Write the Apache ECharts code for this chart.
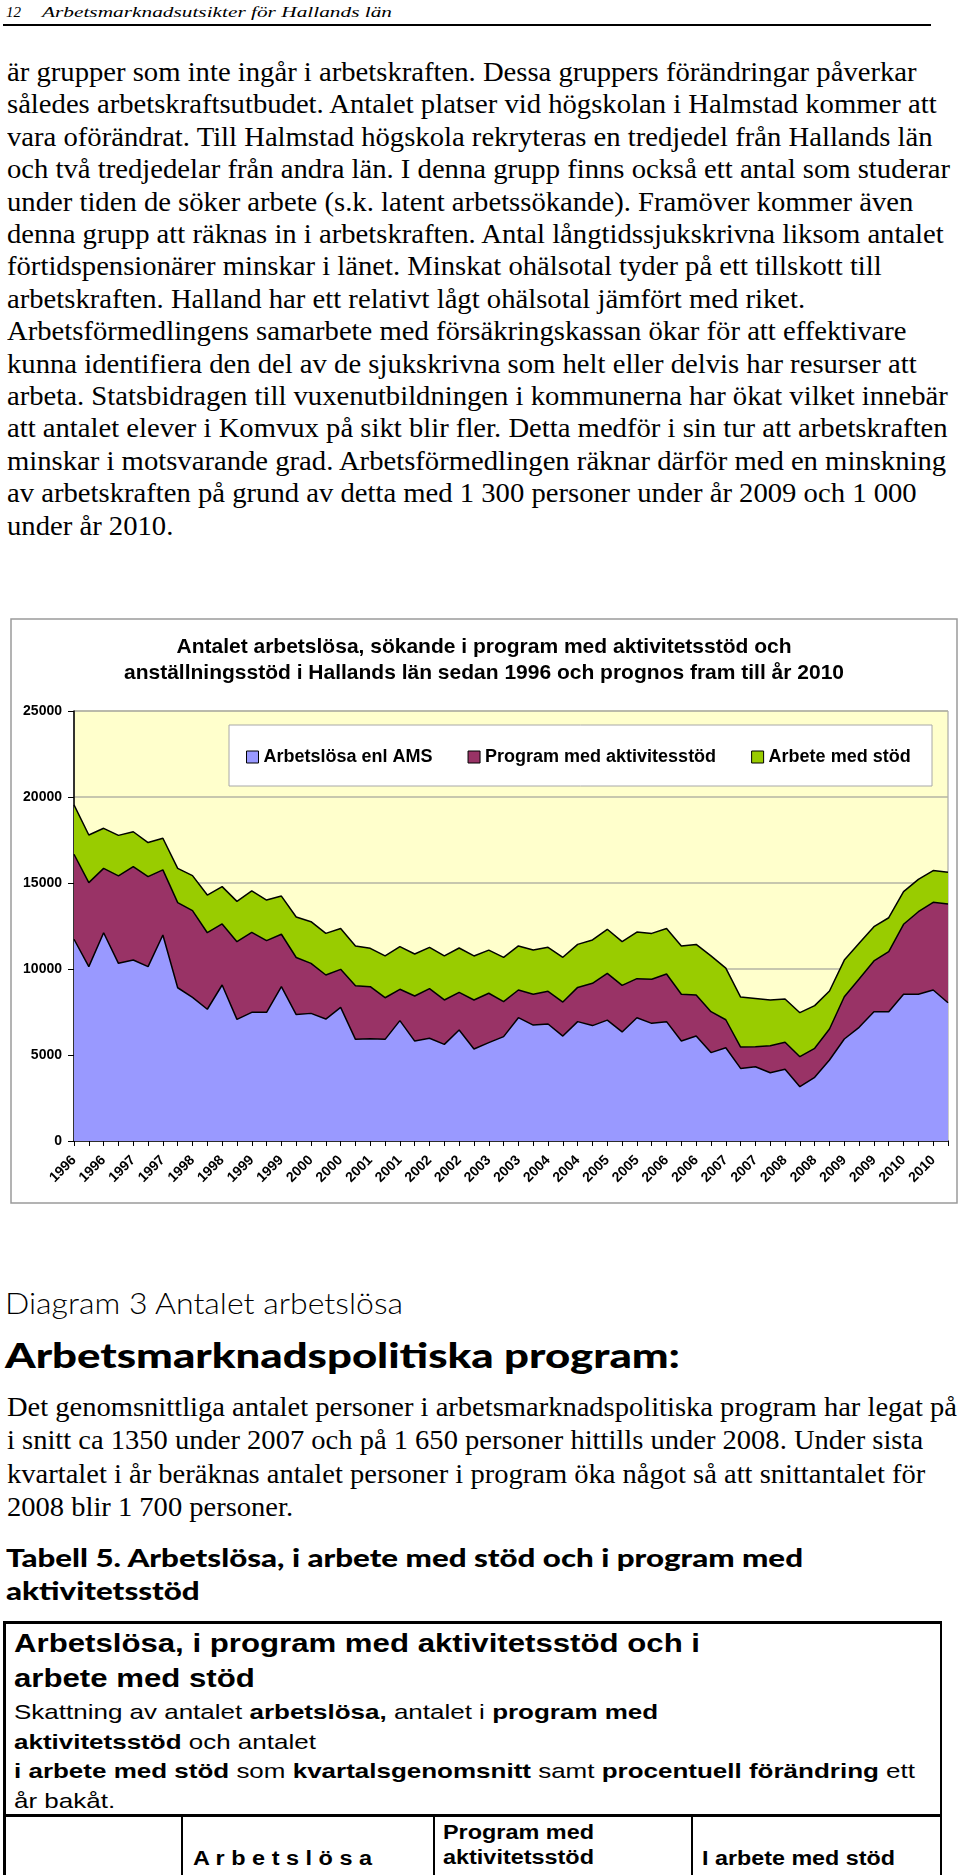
<!DOCTYPE html>
<html><head><meta charset="utf-8">
<script src="https://cdn.jsdelivr.net/npm/echarts@6/dist/echarts.min.js"></script>
<style>
html,body{margin:0;padding:0;background:#fff;}
#page{position:relative;width:960px;height:1875px;overflow:hidden;background:#fff;}
.t{position:absolute;white-space:nowrap;transform-origin:0 50%;color:#000;display:block;}
.serif{font-family:"Liberation Serif","Times New Roman",serif;}
.sans{font-family:"Liberation Sans Narrow","Liberation Sans",Arial,sans-serif;}
.geo{font-family:Lato,"Noto Sans",sans-serif;}
.rule{position:absolute;background:#000;}
#chart{position:absolute;left:0;top:600px;width:960px;height:620px;}
</style></head>
<body><div id="page"><div id="chart"></div></div>
<script>
// ---------- chart data ----------
const years = [1996,1997,1998,1999,2000,2001,2002,2003,2004,2005,2006,2007,2008,2009,2010];
const categories = [];
years.forEach(y => { for (let q = 0; q < 4; q++) categories.push(String(y)); });

const arbetslosa = [11730,10140,12110,10330,10520,10140,11980,8910,8350,7660,
  9070,7070,7480,7480,8970,7350,7420,7090,7770,5910,
  5950,5910,7000,5810,5970,5620,6450,5350,5720,6070,
  7170,6740,6800,6100,6940,6710,7030,6340,7170,6840,
  6940,5810,6100,5140,5420,4220,4320,3970,4170,3160,
  3700,4710,5930,6610,7520,7520,8530,8530,8780,8040];
const program = [4940,4880,3740,5080,5430,5230,3780,4950,5040,4450,
  3550,4520,4650,4170,3050,3320,2910,2560,2210,3120,
  3020,2420,1820,2620,2890,2580,2190,2850,2870,2030,
  1610,1790,1900,1980,1990,2460,2720,2710,2270,2560,
  2770,2720,2390,2380,1630,1240,1160,1570,1570,1740,
  1690,1800,2460,2810,2950,3490,4070,4800,5100,5740];
const arbeteMedStod = [2870,2770,2330,2360,2030,1980,1840,1990,2040,2190,
  2170,2340,2410,2360,2220,2350,2420,2420,2370,2310,
  2230,2430,2480,2440,2400,2560,2580,2560,2510,2580,
  2560,2570,2560,2600,2500,2520,2560,2540,2710,2670,
  2640,2810,2940,3240,3000,2910,2810,2660,2520,2560,
  2480,2210,2130,2070,1990,1970,1900,1880,1840,1840];
const seriesNames = ['Arbetslösa enl AMS','Program med aktivitesstöd','Arbete med stöd'];
const seriesColors = ['#9999FF','#993366','#99CC00'];
const yTicks = [0,5000,10000,15000,20000,25000];
const chartTitle = 'Antalet arbetslösa, sökande i program med aktivitetsstöd och\nanställningsstöd i Hallands län sedan 1996 och prognos fram till år 2010';

// ---------- page text ----------
const para1 = [
"är grupper som inte ingår i arbetskraften. Dessa gruppers förändringar påverkar",
"således arbetskraftsutbudet. Antalet platser vid högskolan i Halmstad kommer att",
"vara oförändrat. Till Halmstad högskola rekryteras en tredjedel från Hallands län",
"och två tredjedelar från andra län. I denna grupp finns också ett antal som studerar",
"under tiden de söker arbete (s.k. latent arbetssökande). Framöver kommer även",
"denna grupp att räknas in i arbetskraften. Antal långtidssjukskrivna liksom antalet",
"förtidspensionärer minskar i länet. Minskat ohälsotal tyder på ett tillskott till",
"arbetskraften. Halland har ett relativt lågt ohälsotal jämfört med riket.",
"Arbetsförmedlingens samarbete med försäkringskassan ökar för att effektivare",
"kunna identifiera den del av de sjukskrivna som helt eller delvis har resurser att",
"arbeta. Statsbidragen till vuxenutbildningen i kommunerna har ökat vilket innebär",
"att antalet elever i Komvux på sikt blir fler. Detta medför i sin tur att arbetskraften",
"minskar i motsvarande grad. Arbetsförmedlingen räknar därför med en minskning",
"av arbetskraften på grund av detta med 1 300 personer under år 2009 och 1 000",
"under år 2010."
];
const para2 = [
"Det genomsnittliga antalet personer i arbetsmarknadspolitiska program har legat på",
"i snitt ca 1350 under 2007 och på 1 650 personer hittills under 2008. Under sista",
"kvartalet i år beräknas antalet personer i program öka något så att snittantalet för",
"2008 blir 1 700 personer."
];

const page = document.getElementById('page');
function addLine(html, cls, x, cy, fs, extra) {
  const h = Math.round(fs * 1.2);
  const d = document.createElement('div');
  d.className = 't ' + cls;
  d.innerHTML = html;
  d.style.left = x + 'px';
  d.style.top = (cy - h / 2) + 'px';
  d.style.height = h + 'px';
  d.style.lineHeight = h + 'px';
  d.style.fontSize = fs + 'px';
  if (extra) Object.assign(d.style, extra);
  page.appendChild(d);
  return d;
}
function fit(els, ref, target) {
  const w = ref.getBoundingClientRect().width;
  const s = target / w;
  els.forEach(e => e.style.transform = 'scaleX(' + s + ')');
}
function rule(x, y, w, h) {
  const r = document.createElement('div');
  r.className = 'rule';
  Object.assign(r.style, {left: x + 'px', top: y + 'px', width: w + 'px', height: h + 'px'});
  page.appendChild(r);
}

// header
const h1 = addLine('12', 'serif', 6, 12, 15, {fontStyle: 'italic'});
const h2 = addLine('Arbetsmarknadsutsikter för Hallands län', 'serif', 42, 12, 15, {fontStyle: 'italic'});
fit([h2], h2, 350);
rule(3, 24, 928, 1.5);

// paragraph 1
const p1 = para1.map((s, i) => addLine(s, 'serif', 7, 72 + i * 32.4, 27));
fit(p1, p1[3], 943);

// headings
const d3 = addLine('Diagram 3 Antalet arbetslösa', 'geo', 5, 1302, 30, {fontWeight: 300});
fit([d3], d3, 398);
const ap = addLine('Arbetsmarknadspolitiska program:', 'geo', 5, 1354, 34, {fontWeight: 900});
fit([ap], ap, 675);

// paragraph 2
const p2 = para2.map((s, i) => addLine(s, 'serif', 7, 1407 + i * 33.3, 27));
fit(p2, p2[0], 950);

// table caption
const tb1 = addLine('Tabell 5. Arbetslösa, i arbete med stöd och i program med', 'geo', 6, 1557, 25, {fontWeight: 900});
const tb2 = addLine('aktivitetsstöd', 'geo', 6, 1590, 25, {fontWeight: 900});
fit([tb1, tb2], tb1, 797);

// table frame
rule(3, 1621, 939, 2.5);
rule(3, 1621, 2.5, 260);
rule(939.5, 1621, 2.5, 260);
rule(3, 1814, 939, 2.5);
rule(181, 1814, 2, 70);
rule(433, 1814, 2, 70);
rule(691, 1814, 2, 70);

const tt1 = addLine('Arbetslösa, i program med aktivitetsstöd och i', 'sans', 14, 1643, 25, {fontWeight: 'bold'});
const tt2 = addLine('arbete med stöd', 'sans', 14, 1678, 25, {fontWeight: 'bold'});
fit([tt1, tt2], tt1, 686);
const td = [
  ['Skattning av antalet <b>arbetslösa,</b> antalet i <b>program med</b>', 1711],
  ['<b>aktivitetsstöd</b> och antalet', 1741],
  ['<b>i arbete med stöd</b> som <b>kvartalsgenomsnitt</b> samt <b>procentuell förändring</b> ett', 1770],
  ['år bakåt.', 1800]
].map(a => addLine(a[0], 'sans', 14, a[1], 21));
fit(td, td[2], 901);
const c1a = addLine('Program med', 'sans', 443, 1832, 20, {fontWeight: 'bold'});
const c1b = addLine('aktivitetsstöd', 'sans', 443, 1857, 20, {fontWeight: 'bold'});
fit([c1a, c1b], c1b, 151);
const c0 = addLine('A r b e t s l ö s a', 'sans', 193, 1858, 20, {fontWeight: 'bold'});
fit([c0], c0, 179);
const c2 = addLine('I arbete med stöd', 'sans', 702, 1858, 20, {fontWeight: 'bold'});
fit([c2], c2, 193);

// ---------- chart ----------
const chart = echarts.init(document.getElementById('chart'), null, {renderer: 'canvas'});
const FONT = '"Liberation Sans", Arial, sans-serif';
const data = [arbetslosa, program, arbeteMedStod];
chart.setOption({
  animation: false,
  backgroundColor: 'transparent',
  graphic: [
    {type: 'rect', z: 0, shape: {x: 11, y: 19, width: 946, height: 584},
     style: {fill: 'none', stroke: '#9a9a9a', lineWidth: 1.5}},
    {type: 'text', z: 10, x: 484, y: 60,
     style: {text: chartTitle, fill: '#000', fontSize: 21, fontWeight: 'bold', fontFamily: FONT,
             lineHeight: 26, align: 'center', verticalAlign: 'middle'}},
    {type: 'rect', z: 10, shape: {x: 229, y: 125, width: 703, height: 61},
     style: {fill: '#fff', stroke: '#a8a8a8', lineWidth: 1}}
  ],
  legend: {
    z: 20, left: 246, top: 148, padding: 0, itemGap: 35, itemWidth: 12, itemHeight: 12,
    icon: 'rect', data: seriesNames,
    itemStyle: {borderColor: '#000', borderWidth: 1},
    textStyle: {fontSize: 18, fontWeight: 'bold', fontFamily: FONT, color: '#000'}
  },
  grid: {left: 74, top: 111, width: 874, height: 430, show: true,
         backgroundColor: '#FFFFCC', borderColor: '#9a9a9a', borderWidth: 1},
  xAxis: {
    type: 'category', data: categories, boundaryGap: false,
    axisLine: {show: true, lineStyle: {color: '#000', width: 1.5}},
    axisTick: {show: true, interval: 0, length: 5, lineStyle: {color: '#000'}},
    axisLabel: {interval: 1, rotate: 45, margin: 17, fontSize: 14, fontWeight: 'bold',
                fontFamily: FONT, color: '#000'},
    splitLine: {show: false}
  },
  yAxis: {
    type: 'value', min: yTicks[0], max: yTicks[yTicks.length - 1], interval: yTicks[1] - yTicks[0],
    axisLine: {show: true, lineStyle: {color: '#000', width: 1.5}},
    axisTick: {show: true, length: 6, lineStyle: {color: '#000'}},
    axisLabel: {margin: 12, fontSize: 14, fontWeight: 'bold', fontFamily: FONT, color: '#000',
                formatter: v => String(v)},
    splitLine: {show: true, lineStyle: {color: '#b4b4a4', width: 1.5}}
  },
  series: seriesNames.map((n, i) => ({
    name: n, type: 'line', stack: 'total', data: data[i],
    symbol: 'none', showSymbol: false,
    itemStyle: {color: seriesColors[i]},
    lineStyle: {color: '#000', width: 1.5},
    areaStyle: {color: seriesColors[i], opacity: 1}
  }))
});
</script></body></html>
